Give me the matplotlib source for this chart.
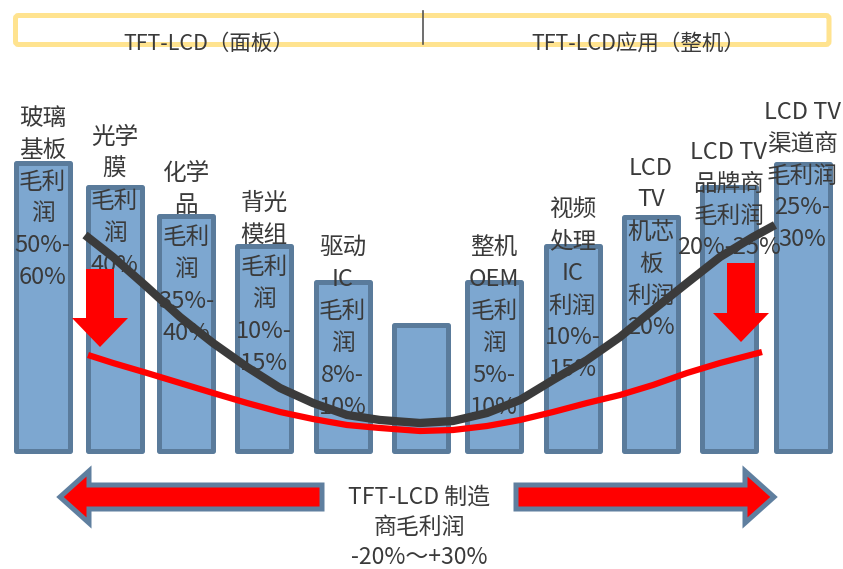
import matplotlib
matplotlib.use("Agg")
import matplotlib.pyplot as plt
from matplotlib.patches import FancyBboxPatch, FancyArrow

plt.rcParams['font.family'] = ['Noto Sans CJK SC', 'DejaVu Sans']

# ---- data (units = pixels above the bar baseline) ----
bar_x = [42.5, 114.5, 186, 264, 342.5, 420.5, 494, 572.5, 651, 729, 802.5]
bar_height = [288, 264, 235, 205, 169, 126, 169, 205, 234, 264, 287]
bar_labels = [
    ["玻璃", "基板", "毛利", "润", "50%-", "60%"],
    ["光学", "膜", "毛利", "润", "40%"],
    ["化学", "品", "毛利", "润", "35%-", "40%"],
    ["背光", "模组", "毛利", "润", "10%-", "15%"],
    ["驱动", "IC", "毛利", "润", "8%-", "10%"],
    [],
    ["整机", "OEM", "毛利", "润", "5%-", "10%"],
    ["视频", "处理", "IC", "利润", "10%-", "15%"],
    ["LCD", "TV", "机芯", "板", "利润", "20%"],
    ["LCD TV", "品牌商", "毛利润", "20%-25%"],
    ["LCD TV", "渠道商", "毛利润", "25%-", "30%"],
]

# smile curve before (black) and after (red)
black_x = [85, 113, 147, 180, 213, 247, 280, 313, 347, 380, 420, 453, 487,
           520, 553, 587, 620, 653, 687, 720, 753, 775]
black_y = [218, 196, 166, 136, 110, 86, 65, 50, 38, 33, 30, 32, 40,
           53, 73, 93, 116, 143, 170, 196, 216, 228]
red_x = [88, 113, 147, 180, 213, 247, 280, 313, 347, 380, 420, 453, 487,
         520, 553, 587, 620, 653, 687, 720, 762]
red_y = [98, 90, 80, 70, 60, 50, 41, 34, 28, 25, 22, 23, 27,
         33, 41, 50, 58, 68, 80, 90, 101]

header_left = "TFT-LCD（面板）"
header_right = "TFT-LCD应用（整机）"
bottom_text = ["TFT-LCD 制造", "商毛利润", "-20%～+30%"]

# ---- layout ----
label_top = [335, 316, 280, 250, 206, 0, 206, 243, 285, 301, 341]
LINE_STEP = 32
TEXT_COLOR = "#3a3a3a"
BAR_FILL = "#7da7d0"
BAR_EDGE = "#5a7b9b"

fig = plt.figure(figsize=(8.43, 5.69), dpi=100)
ax = fig.add_axes([0, 0, 1, 1])
ax.set_xlim(0, 843)
ax.set_ylim(-116, 453)
ax.axis("off")

# header box
box = FancyBboxPatch((15.5, 408.5), 813.5, 29,
                     boxstyle="round,pad=0,rounding_size=3",
                     facecolor="none", edgecolor="#ffe38f", linewidth=3.6, zorder=1)
ax.add_patch(box)
ax.plot([423, 423], [409, 442], color="#555555", linewidth=1.2, zorder=2)
ax.text(209, 409, header_left, ha="center", va="center", fontsize=15.5,
        color=TEXT_COLOR, zorder=3)
ax.text(638, 409, header_right, ha="center", va="center", fontsize=15.5,
        color=TEXT_COLOR, zorder=3)

# bars
bars = ax.bar(bar_x, bar_height, width=54, bottom=2.5, color=BAR_FILL,
              edgecolor=BAR_EDGE, linewidth=3.6, zorder=2)
for b in bars:
    b.set_joinstyle("round")

for x, lines, top in zip(bar_x, bar_labels, label_top):
    for i, line in enumerate(lines):
        ax.text(x, top - i * LINE_STEP, line, ha="center", va="center",
                fontsize=17, color=TEXT_COLOR, zorder=3)

# curves
ax.plot(black_x, black_y, color="#3b3b3b", linewidth=6,
        solid_capstyle="butt", solid_joinstyle="round", zorder=4)
ax.plot(red_x, red_y, color="#ff0000", linewidth=4.5,
        solid_capstyle="butt", solid_joinstyle="round", zorder=4)

# red down arrows
for ax_x, y0, y1 in [(100, 184, 106), (741, 190, 111)]:
    ax.add_patch(FancyArrow(ax_x, y0, 0, y1 - y0, width=28, head_width=56,
                            head_length=29, length_includes_head=True,
                            facecolor="#ff0000", edgecolor="none", zorder=5))

# bottom double arrow
arrow_kw = dict(width=24, head_width=52, head_length=29, length_includes_head=True,
                facecolor="#ff0000", edgecolor="#5f7f9f", linewidth=3.6, zorder=2)
ax.add_patch(FancyArrow(322, -44, 60 - 322, 0, **arrow_kw))
ax.add_patch(FancyArrow(516, -44, 774 - 516, 0, **arrow_kw))

for i, line in enumerate(bottom_text):
    ax.text(419, -44 - i * 30, line, ha="center", va="center",
            fontsize=16.5, color=TEXT_COLOR, zorder=3)

fig.savefig("out.png", dpi=100)
